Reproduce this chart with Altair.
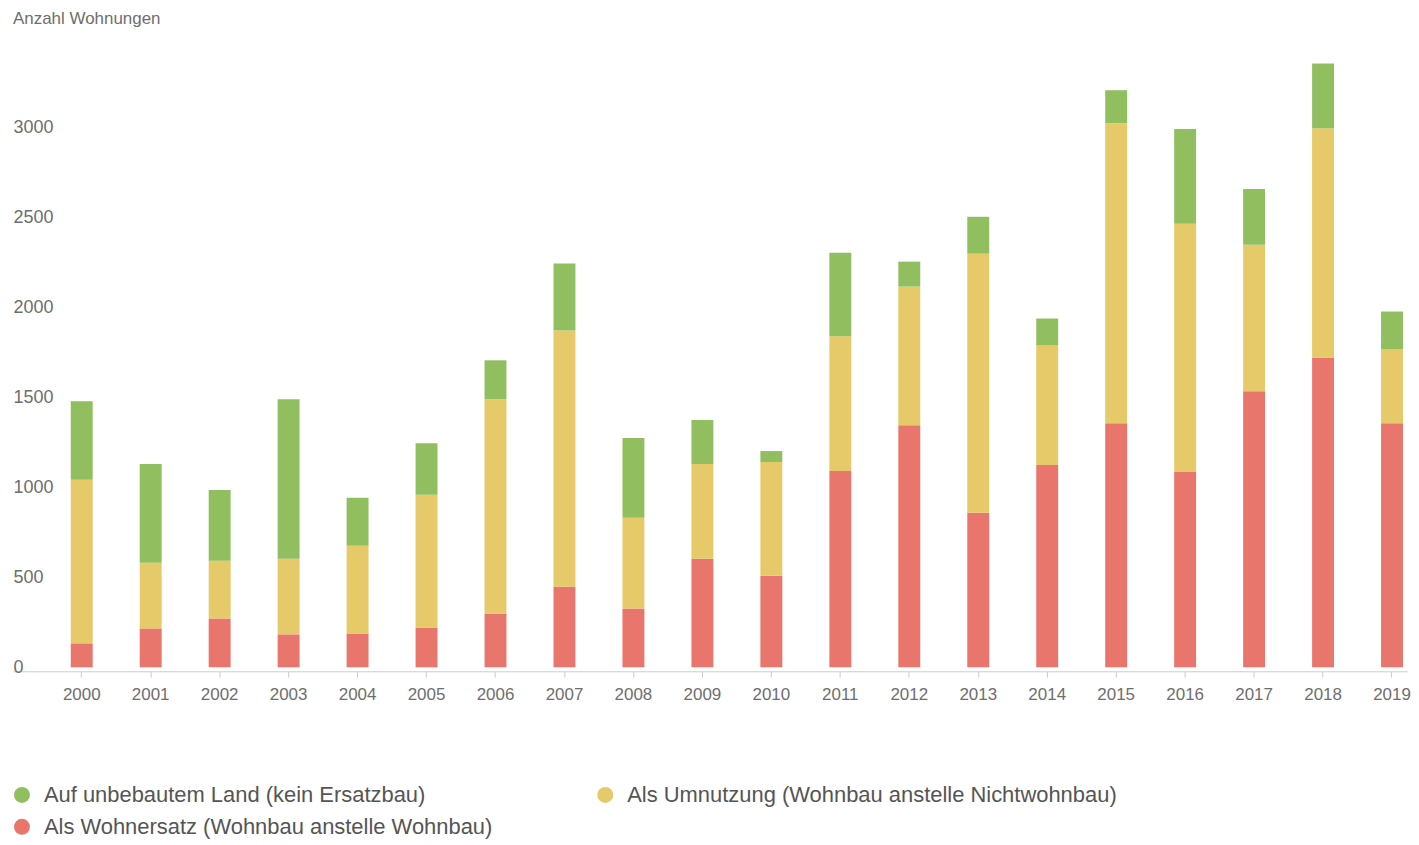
import altair as alt
import pandas as pd

years = [str(y) for y in range(2000, 2020)]
unbebaut = [437, 548, 393, 886, 266, 287, 216, 371, 443, 244, 61, 465, 139, 205, 149, 183, 526, 310, 360, 210]
umnutzung = [908, 365, 321, 420, 487, 737, 1190, 1423, 503, 526, 631, 748, 769, 1439, 664, 1666, 1378, 814, 1273, 410]
wohnersatz = [133, 216, 271, 183, 188, 221, 299, 448, 327, 603, 509, 1090, 1345, 858, 1124, 1356, 1085, 1533, 1721, 1356]
series = [
    "Auf unbebautem Land (kein Ersatzbau)",
    "Als Umnutzung (Wohnbau anstelle Nichtwohnbau)",
    "Als Wohnersatz (Wohnbau anstelle Wohnbau)",
]
colors = ["#91bf60", "#e6c968", "#e9766c"]
y_ticks = [0, 500, 1000, 1500, 2000, 2500, 3000]

rows = []
for vals, name, order in [(wohnersatz, series[2], 0), (umnutzung, series[1], 1), (unbebaut, series[0], 2)]:
    for yr, v in zip(years, vals):
        rows.append({"Jahr": yr, "Anzahl": v, "Kategorie": name, "ord": order})
df = pd.DataFrame(rows)

FONT = "Liberation Sans"

chart = alt.Chart(df).mark_bar().encode(
    x=alt.X(
        "Jahr:N",
        sort=years,
        scale=alt.Scale(paddingInner=0.682, paddingOuter=0.448, align=0.935),
        axis=alt.Axis(
            title=None, labelAngle=0, domainColor="#cccccc", tickColor="#cccccc",
            tickSize=6, labelPadding=9, offset=4, labelFontSize=17, labelColor="#6e6e6e",
            labelFont=FONT,
        ),
    ),
    y=alt.Y(
        "Anzahl:Q",
        stack="zero",
        scale=alt.Scale(domain=[0, 3500], nice=False),
        axis=alt.Axis(
            title=None, values=y_ticks, grid=False, domain=False, ticks=False,
            labelAlign="left", labelPadding=0, labelFontSize=18, labelColor="#6e6e6e",
            labelBaseline="middle", labelFont=FONT, format="d",
        ),
    ),
    color=alt.Color(
        "Kategorie:N",
        scale=alt.Scale(domain=series, range=colors),
        legend=alt.Legend(
            title=None, orient="none", legendX=-2, legendY=749, columns=2,
            columnPadding=101, rowPadding=10, symbolType="circle", symbolSize=256,
            symbolStrokeWidth=0, labelFontSize=22, labelColor="#555555",
            labelLimit=800, labelOffset=11, direction="horizontal", labelFont=FONT,
        ),
    ),
    order=alt.Order("ord:Q"),
).properties(
    width=1398,
    height=632,
    padding={"left": 3, "top": 1, "right": 0, "bottom": 0},
    title=alt.TitleParams(
        text="Anzahl Wohnungen", anchor="start", fontSize=17, fontWeight="normal",
        color="#6e6e6e", offset=9, font=FONT, dx=2,
    ),
).configure(font=FONT).configure_view(stroke=None)

chart.save("out.html", embed_options={"renderer": "svg", "actions": False})
